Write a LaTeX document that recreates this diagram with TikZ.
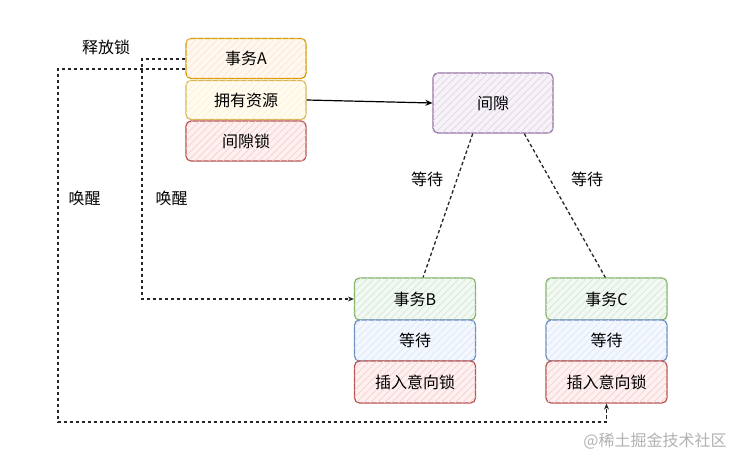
\documentclass[tikz,border=0pt]{standalone}
\usepackage{fontspec}
\setmainfont{Noto Sans CJK SC}
\usetikzlibrary{arrows.meta,patterns.meta,calc}
\definecolor{orS}{HTML}{D79B00}\definecolor{orF}{HTML}{FFE6CC}
\definecolor{yeS}{HTML}{D6B656}\definecolor{yeF}{HTML}{FFF2CC}
\definecolor{reS}{HTML}{B85450}\definecolor{reF}{HTML}{F8CECC}
\definecolor{puS}{HTML}{9673A6}\definecolor{puF}{HTML}{E1D5E7}
\definecolor{grS}{HTML}{82B366}\definecolor{grF}{HTML}{D5E8D4}
\definecolor{blS}{HTML}{6C8EBF}\definecolor{blF}{HTML}{DAE8FC}
\tikzset{
  box/.style n args={2}{draw=#1, line width=1.2pt, rounded corners=5pt,
    fill=#2!30, minimum width=120pt, minimum height=40pt, inner sep=0pt,
    font=\fontsize{16}{18}\selectfont, text=black,
    postaction={pattern={Lines[angle=45,distance=5pt,line width=0.7pt]}, pattern color=#2}},
  lbl/.style={font=\fontsize{16}{18}\selectfont, text=black, inner sep=0pt},
  dline/.style={dash pattern=on 3.5pt off 2.5pt, line width=1.3pt, black!85},
  tip/.style={-{Stealth[length=6pt,width=5pt]}},
}
\begin{document}
\begin{tikzpicture}[x=1pt,y=-1pt]
\useasboundingbox[fill=white] (0,0) rectangle (740,462);
% transaction A
\node[box={orS}{orF}, minimum height=40pt] (txA) at (246,58.5) {事务A};
\node[box={yeS}{yeF}, minimum height=39pt] (own) at (246,100) {拥有资源};
\node[box={reS}{reF}, minimum height=40pt] (glock) at (246,141) {间隙锁};
% gap
\node[box={puS}{puF}, minimum height=60pt] (gap) at (493,103) {间隙};
% transaction B
\node[box={grS}{grF}, minimum width=121pt, minimum height=42pt] (txB) at (415,299) {事务B};
\node[box={blS}{blF}, minimum width=121pt, minimum height=41pt] (waitB) at (415,340.5) {等待};
\node[box={reS}{reF}, minimum width=121pt, minimum height=42pt] (insB) at (415,382) {插入意向锁};
% transaction C
\node[box={grS}{grF}, minimum width=121pt, minimum height=42pt] (txC) at (606.5,299) {事务C};
\node[box={blS}{blF}, minimum width=121pt, minimum height=41pt] (waitC) at (606.5,340.5) {等待};
\node[box={reS}{reF}, minimum width=121pt, minimum height=42pt] (insC) at (606.5,382) {插入意向锁};
% labels
\node[lbl] (lrel) at (106,47) {释放锁};
\node[lbl] (lwake1) at (84.5,198) {唤醒};
\node[lbl] (lwake2) at (171.5,198) {唤醒};
\node[lbl] (lwaitB) at (427,179) {等待};
\node[lbl] (lwaitC) at (587,179) {等待};
\node[lbl, text=black!30] (wm) at (655,441) {@稀土掘金技术社区};
% connectors
\draw[line width=1.2pt, black, -{Stealth[length=7pt,width=6pt,open]}] (own.east) -- (gap.west);
\draw[dline] ($(gap.south west)!0.333!(gap.south east)$) -- ($(txB.north west)!0.566!(txB.north east)$);
\draw[dline] ($(gap.south west)!0.758!(gap.south east)$) -- ($(txC.north west)!0.49!(txC.north east)$);
\coordinate (a1) at ($(txA.west)+(0,0.5)$);
\coordinate (k1) at (142,59);
\draw[dline, tip] (a1) -- (k1) |- (txB.west);
\coordinate (a2) at ($(txA.west)+(0,10.5)$);
\coordinate (k2) at (58,422);
\draw[dline, tip] (a2) -| (k2) -| (insC.south);
\end{tikzpicture}
\end{document}
